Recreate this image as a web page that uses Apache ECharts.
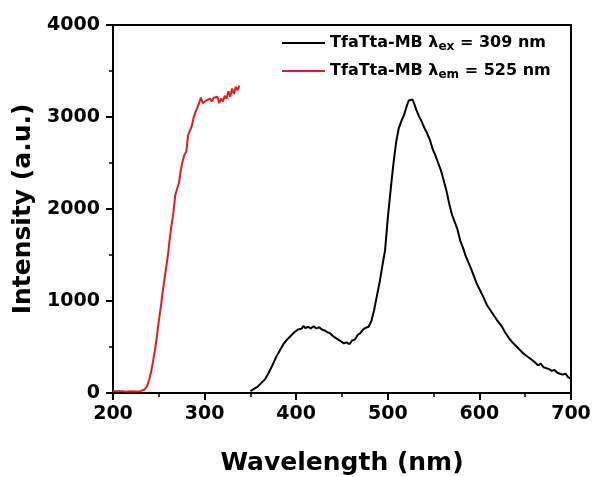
<!DOCTYPE html>
<html>
<head>
<meta charset="utf-8">
<script src="https://cdn.jsdelivr.net/npm/echarts@6/dist/echarts.min.js"></script>
<style>
html,body{margin:0;padding:0;background:#fff;}
#c{width:594px;height:477px;}
</style>
</head>
<body>
<div id="c"></div>
<script>
// Emission spectrum (black), excitation at 309 nm
const emWavelength = [350,354,358,362,366,370,374,378,382,386,390,394,398,402,406,408,410,413,416,419,422,425,428,431,434,437,440,443,446,449,452,455,458,461,464,467,470,473,476,479,482,485,488,491,494,497,500,503,506,509,512,515,518,521,523,525,527,529,531,534,537,540,543,546,549,552,555,558,561,564,567,570,573,576,579,582,585,588,591,594,597,600,604,608,612,616,620,624,628,632,636,640,644,648,652,656,660,664,667,670,673,676,679,682,685,688,691,694,697,700];
const emIntensity = [20,45,70,110,150,220,300,390,460,530,580,620,660,690,700,730,705,720,700,725,700,715,690,680,660,650,620,600,580,560,540,550,530,570,580,630,650,690,710,720,780,900,1050,1200,1380,1550,1900,2200,2480,2720,2880,2960,3030,3130,3180,3170,3190,3140,3080,3010,2950,2880,2820,2750,2650,2580,2500,2420,2310,2200,2060,1940,1860,1780,1660,1580,1490,1420,1350,1270,1190,1130,1050,960,900,840,780,730,660,600,550,510,470,430,400,370,340,300,320,280,270,260,240,250,220,210,200,210,170,160];
// Excitation spectrum (red), emission monitored at 525 nm
const exWavelength = [200,205,210,215,220,225,230,234,237,240,242,244,246,248,250,252,254,256,258,260,262,264,266,268,270,272,274,276,278,280,282,284,286,288,290,292,294,296,298,300,302,304,306,308,310,312,314,316,318,320,322,324,326,328,330,332,334,336,338];
const exIntensity = [20,18,20,15,18,15,20,35,70,160,250,360,480,620,780,920,1080,1220,1360,1500,1680,1830,1960,2150,2220,2280,2420,2520,2590,2620,2800,2850,2900,2990,3050,3100,3150,3210,3150,3130,3180,3160,3200,3170,3210,3190,3220,3150,3200,3170,3230,3200,3280,3220,3310,3250,3330,3290,3340];
const xTicks = [200,300,400,500,600,700];
const yTicks = [0,1000,2000,3000,4000];
const seriesNames = ['TfaTta-MB λex = 309 nm','TfaTta-MB λem = 525 nm'];
const legendParts = [['TfaTta-MB λ','ex',' = 309 nm'],['TfaTta-MB λ','em',' = 525 nm']];

const FONT = '"DejaVu Sans", "Liberation Sans", Arial, sans-serif';
const chart = echarts.init(document.getElementById('c'), null, {renderer:'canvas'});
const zip = (a,b) => a.map((v,i)=>[v,b[i]]);

const axisCommon = {
  axisLine:{show:true,lineStyle:{color:'#000',width:2}},
  axisTick:{show:true,inside:false,length:7,lineStyle:{color:'#000',width:2}},
  minorTick:{show:true,splitNumber:2,length:4,lineStyle:{color:'#000',width:1.5}},
  splitLine:{show:false},
  axisLabel:{color:'#000',fontFamily:FONT,fontWeight:'bold',fontSize:19,formatter:function(v){return String(v);}},
  nameTextStyle:{color:'#000',fontFamily:FONT,fontWeight:'bold',fontSize:25},
  nameLocation:'middle'
};

chart.setOption({
  animation:false,
  backgroundColor:'#fff',
  grid:{left:113,right:23,top:25,bottom:84,containLabel:false,outerBoundsMode:'none',show:true,borderColor:'#000',borderWidth:2,backgroundColor:'transparent'},
  xAxis:Object.assign({}, axisCommon, {
    type:'value', min:xTicks[0], max:xTicks[xTicks.length-1], interval:100,
    name:'Wavelength (nm)', nameGap:58,
    axisLabel:Object.assign({}, axisCommon.axisLabel, {margin:12})
  }),
  yAxis:Object.assign({}, axisCommon, {
    type:'value', min:yTicks[0], max:yTicks[yTicks.length-1], interval:1000,
    name:'Intensity (a.u.)', nameGap:69,
    axisLabel:Object.assign({}, axisCommon.axisLabel, {margin:13})
  }),
  legend:{
    show:true, orient:'vertical', left:277, top:27, itemGap:7,
    itemWidth:43, itemHeight:2, icon:'rect',
    data:seriesNames,
    formatter:function(name){
      const p = legendParts[seriesNames.indexOf(name)];
      return '{b|'+p[0]+'}{s|'+p[1]+'}{b|'+p[2]+'}';
    },
    textStyle:{
      color:'#000', fontFamily:FONT, fontWeight:'bold', fontSize:16,
      rich:{
        b:{fontFamily:FONT,fontWeight:'bold',fontSize:16,color:'#000',lineHeight:20},
        s:{fontFamily:FONT,fontWeight:'bold',fontSize:12,color:'#000',verticalAlign:'bottom',lineHeight:20,padding:[9,0,0,0]}
      }
    }
  },
  series:[
    {name:seriesNames[0], type:'line', data:zip(emWavelength,emIntensity), showSymbol:false, symbol:'none', lineStyle:{color:'#000',width:2}, itemStyle:{color:'#000'}},
    {name:seriesNames[1], type:'line', data:zip(exWavelength,exIntensity), showSymbol:false, symbol:'none', lineStyle:{color:'#e8191f',width:2}, itemStyle:{color:'#e8191f'}}
  ]
});
</script>
</body>
</html>
